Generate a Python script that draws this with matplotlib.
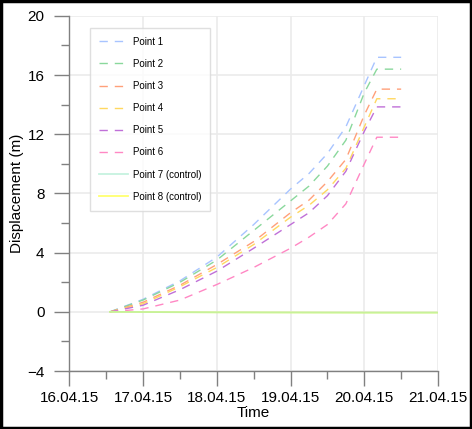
import matplotlib
matplotlib.use("Agg")
import matplotlib.pyplot as plt
import matplotlib.dates as mdates
import numpy as np
import pandas as pd
from matplotlib.ticker import MultipleLocator

plt.rcParams['font.family'] = ['Liberation Sans', 'DejaVu Sans']

start_date = pd.Timestamp("2015-04-16")

# time in days after 16.04.15
days = [0.55, 1.0, 1.5, 2.0, 2.5, 3.0, 3.25, 3.5, 3.75, 4.0, 4.17, 4.5]
p1 = [0, 0.85, 2.1, 3.7, 5.9, 8.3, 9.35, 10.7, 12.5, 15.3, 17.2, 17.2]
p2 = [0, 0.8, 2.0, 3.5, 5.5, 7.5, 8.5, 9.85, 11.6, 14.8, 16.4, 16.4]
p3 = [0, 0.65, 1.8, 3.2, 4.75, 6.7, 7.55, 8.8, 10.3, 13.3, 15.05, 15.05]
p4 = [0, 0.55, 1.7, 3.0, 4.55, 6.4, 7.2, 8.25, 9.7, 12.5, 14.4, 14.4]
p5 = [0, 0.45, 1.5, 2.75, 4.3, 5.9, 6.7, 7.85, 9.5, 12.2, 13.85, 13.85]
p6 = [0, 0.2, 0.8, 1.85, 3.0, 4.3, 5.05, 5.9, 7.3, 10.0, 11.8, 11.8]

control_days = [0.55, 2.0, 3.0, 4.0, 5.0]
p7 = [0, -0.03, -0.04, -0.05, -0.05]
p8 = [0, -0.03, -0.04, -0.05, -0.05]

labels = ["Point 1", "Point 2", "Point 3", "Point 4", "Point 5", "Point 6",
          "Point 7 (control)", "Point 8 (control)"]
colors = ["#a8c4ff", "#8ad89c", "#ffa07a", "#ffd860", "#c070d8", "#ff88c4",
          "#8ee6c0", "#ffff70"]

def to_dates(d):
    return [start_date + pd.Timedelta(days=x) for x in d]

fig = plt.figure(figsize=(4.72, 4.29), dpi=100)
ax = fig.add_axes([0.147, 0.135, 0.781, 0.828])

series = [p1, p2, p3, p4, p5, p6]
for s, lab, c in zip(series, labels[:6], colors[:6]):
    ax.plot(to_dates(days), s, color=c, lw=1.0, ls=(0, (6, 5)), label=lab)
ax.plot(to_dates(control_days), p7, color=colors[6], lw=1.3, ls='-',
        label=labels[6], zorder=3, alpha=0.5)
ax.plot(to_dates(control_days), p8, color=colors[7], lw=1.3, ls='-',
        label=labels[7], zorder=2)

ax.set_xlim(start_date, start_date + pd.Timedelta(days=5))
ax.set_ylim(-4, 20)
ax.xaxis.set_major_locator(mdates.DayLocator())
ax.xaxis.set_minor_locator(mdates.HourLocator(byhour=[12]))
ax.xaxis.set_major_formatter(mdates.DateFormatter("%d.%m.%y"))
ax.yaxis.set_major_locator(MultipleLocator(4))
ax.yaxis.set_minor_locator(MultipleLocator(2))

for side in ['top', 'right']:
    ax.spines[side].set_visible(False)
for side in ['left', 'bottom']:
    ax.spines[side].set_color('#808080')
    ax.spines[side].set_linewidth(1.0)

ax.tick_params(which='major', direction='out', length=11, width=1.0, color='#808080',
               labelsize=11)
ax.tick_params(axis='y', which='major', pad=7)
ax.tick_params(axis='x', which='major', pad=3)
ax.tick_params(which='minor', direction='out', length=6, width=1.0, color='#808080')
ax.grid(True, which='major', color='#ebebeb', lw=1.2)
ax.set_axisbelow(True)

ax.set_xlabel("Time", fontsize=11, labelpad=1)
ax.set_ylabel("Displacement (m)", fontsize=11, labelpad=2)

leg = ax.legend(loc='upper left', bbox_to_anchor=(0.056, 0.966), borderaxespad=0,
                fontsize=7, frameon=True, fancybox=False, edgecolor='#d8d8d8',
                handlelength=3.0, labelspacing=1.25, borderpad=0.9,
                handletextpad=0.5)
leg.get_frame().set_linewidth(1.0)

# figure border
fig.patches.append(plt.Rectangle((0.003, 0.003), 0.994, 0.994, transform=fig.transFigure,
                                 fill=False, edgecolor='black', lw=2.5))

fig.savefig("out.png", dpi=100)
